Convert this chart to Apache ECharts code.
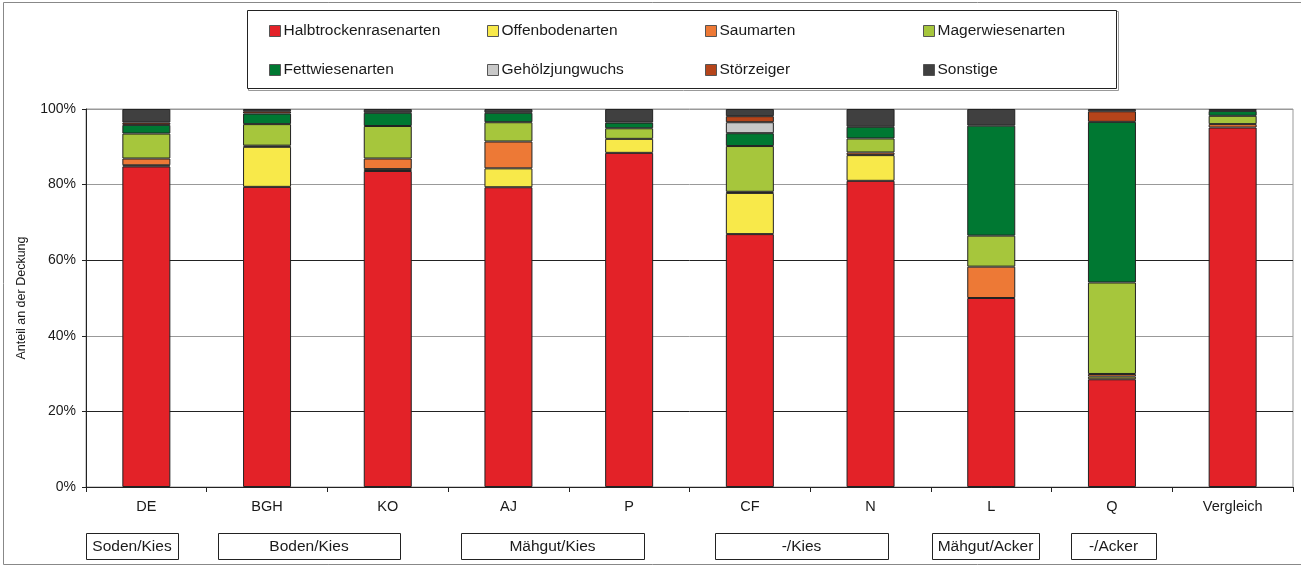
<!DOCTYPE html>
<html>
<head>
<meta charset="utf-8">
<title>Anteil an der Deckung</title>
<script src="https://cdn.jsdelivr.net/npm/echarts@6/dist/echarts.min.js"></script>
<style>
  html, body { margin: 0; padding: 0; background: #fff; }
  #chart { width: 1301px; height: 567px; }
</style>
</head>
<body>
<div id="chart"></div>
<script>
// Flächen
const categories = ['DE', 'BGH', 'KO', 'AJ', 'P', 'CF', 'N', 'L', 'Q', 'Vergleich'];

// Deckungsanteile je Artengruppe (%)
const halbtrockenrasenarten = [84.8, 79.4, 83.6, 79.3, 88.4, 66.9, 81.0, 50.0, 28.5, 95.1];
const offenbodenarten       = [0.3, 10.6, 0.5, 5.0, 3.7, 10.9, 6.8, 0, 0.7, 0];
const saumarten             = [1.8, 0.3, 2.8, 7.1, 0, 0.3, 0.7, 8.3, 0.7, 0.9];
const magerwiesenarten      = [6.6, 5.7, 8.6, 5.1, 2.8, 12.1, 3.7, 8.2, 24.2, 2.2];
const fettwiesenarten       = [2.3, 2.8, 3.5, 2.5, 1.5, 3.4, 3.1, 29.1, 42.5, 1.3];
const gehoelzjungwuchs      = [0, 0, 0, 0, 0, 2.9, 0, 0, 0, 0];
const stoerzeiger           = [0.6, 0.6, 0, 0, 0, 1.6, 0, 0, 2.8, 0];
const sonstige              = [3.6, 0.6, 1.0, 1.0, 3.6, 1.9, 4.7, 4.4, 0.6, 0.5];

// Achsenbeschriftung
const yTickLabels = ['0%', '20%', '40%', '60%', '80%', '100%'];

// Varianten (Übertragungsmaterial / Boden)
const groupLabels = ['Soden/Kies', 'Boden/Kies', 'Mähgut/Kies', '-/Kies', 'Mähgut/Acker', '-/Acker'];

// Lage der Variantenkästen unter der Achse (x-Bereich in px)
const groupBoxLayout = [[86, 178], [218, 400], [461, 644], [715, 888], [932, 1039], [1071, 1156]];

const seriesDefs = [
  { name: 'Halbtrockenrasenarten', values: halbtrockenrasenarten, color: '#E32228' },
  { name: 'Offenbodenarten',       values: offenbodenarten,       color: '#F8E94A' },
  { name: 'Saumarten',             values: saumarten,             color: '#ED7936' },
  { name: 'Magerwiesenarten',      values: magerwiesenarten,      color: '#A6C63C' },
  { name: 'Fettwiesenarten',       values: fettwiesenarten,       color: '#007832' },
  { name: 'Gehölzjungwuchs',       values: gehoelzjungwuchs,      color: '#C8C8C8' },
  { name: 'Störzeiger',            values: stoerzeiger,           color: '#B5441A' },
  { name: 'Sonstige',              values: sonstige,              color: '#404040' }
];

const FONT = '"Liberation Sans", Arial, sans-serif';
const TEXT = '#1a1a1a';

// Legende: vier Spalten, zwei Zeilen
const legendCols = [269, 487, 705, 923];
const legendRows = [22, 61];
const legends = seriesDefs.map((s, i) => ({
  data: [s.name],
  left: legendCols[i % 4],
  top: legendRows[Math.floor(i / 4)],
  padding: 0,
  itemWidth: 11,
  itemHeight: 11,
  itemGap: 0,
  icon: 'rect',
  selectedMode: false,
  itemStyle: { borderColor: '#555', borderWidth: 1 },
  textStyle: { fontFamily: FONT, fontSize: 15.5, color: TEXT, padding: [0, 0, 0, -2], lineHeight: 18 }
}));

const graphics = [
  // Rahmen um die Grafik
  { type: 'rect', shape: { x: 3.5, y: 2.5, width: 1320, height: 562 },
    style: { fill: 'none', stroke: '#888', lineWidth: 1 }, z: -1 },
  // Rahmen der Legende
  { type: 'rect', shape: { x: 248.5, y: 11.5, width: 870, height: 79 },
    style: { fill: 'none', stroke: '#999', lineWidth: 1 }, z: 0 },
  { type: 'rect', shape: { x: 247.5, y: 10.5, width: 869, height: 78 },
    style: { fill: '#fff', stroke: '#222', lineWidth: 1 }, z: 0 }
];
groupLabels.forEach((label, i) => {
  const [x0, x1] = groupBoxLayout[i];
  graphics.push({
    type: 'group',
    children: [
      { type: 'rect', shape: { x: x0 + 0.5, y: 533.5, width: x1 - x0, height: 26 },
        style: { fill: '#fff', stroke: '#222', lineWidth: 1 } },
      { type: 'text', x: (x0 + x1) / 2, y: 546.5,
        style: { text: label, fill: TEXT, font: '15.5px ' + FONT, align: 'center', verticalAlign: 'middle' } }
    ]
  });
});

const chart = echarts.init(document.getElementById('chart'), null, { renderer: 'canvas' });
chart.setOption({
  animation: false,
  backgroundColor: '#fff',
  legend: legends,
  graphic: graphics,
  grid: {
    left: 86, right: 8, top: 109, bottom: 80,
    show: true, borderColor: '#999', borderWidth: 1, backgroundColor: 'transparent'
  },
  xAxis: {
    type: 'category',
    data: categories,
    axisLine: { lineStyle: { color: '#222', width: 1 } },
    axisTick: { show: true, length: 5, lineStyle: { color: '#222' } },
    axisLabel: { fontFamily: FONT, fontSize: 14.5, color: TEXT, margin: 12 }
  },
  yAxis: {
    type: 'value',
    min: 0, max: 100, interval: 20,
    name: 'Anteil an der Deckung',
    nameLocation: 'middle',
    nameGap: 58,
    nameTextStyle: { fontFamily: FONT, fontSize: 12.5, color: TEXT },
    axisLine: { show: true, lineStyle: { color: '#222', width: 1 } },
    axisTick: { show: true, length: 4, lineStyle: { color: '#222' } },
    axisLabel: {
      fontFamily: FONT, fontSize: 14, color: TEXT, margin: 10,
      formatter: (v) => yTickLabels[Math.round(v / 20)]
    },
    splitLine: { show: true, lineStyle: { color: ['#222', '#222', '#999', '#222', '#999', '#999'], width: 1 } }
  },
  series: seriesDefs.map(s => ({
    name: s.name,
    type: 'bar',
    stack: 'deckung',
    barWidth: 48,
    data: s.values.map(v => (v === 0 ? '-' : v)),
    itemStyle: { color: s.color, borderColor: '#222', borderWidth: 1 }
  }))
});
</script>
</body>
</html>
